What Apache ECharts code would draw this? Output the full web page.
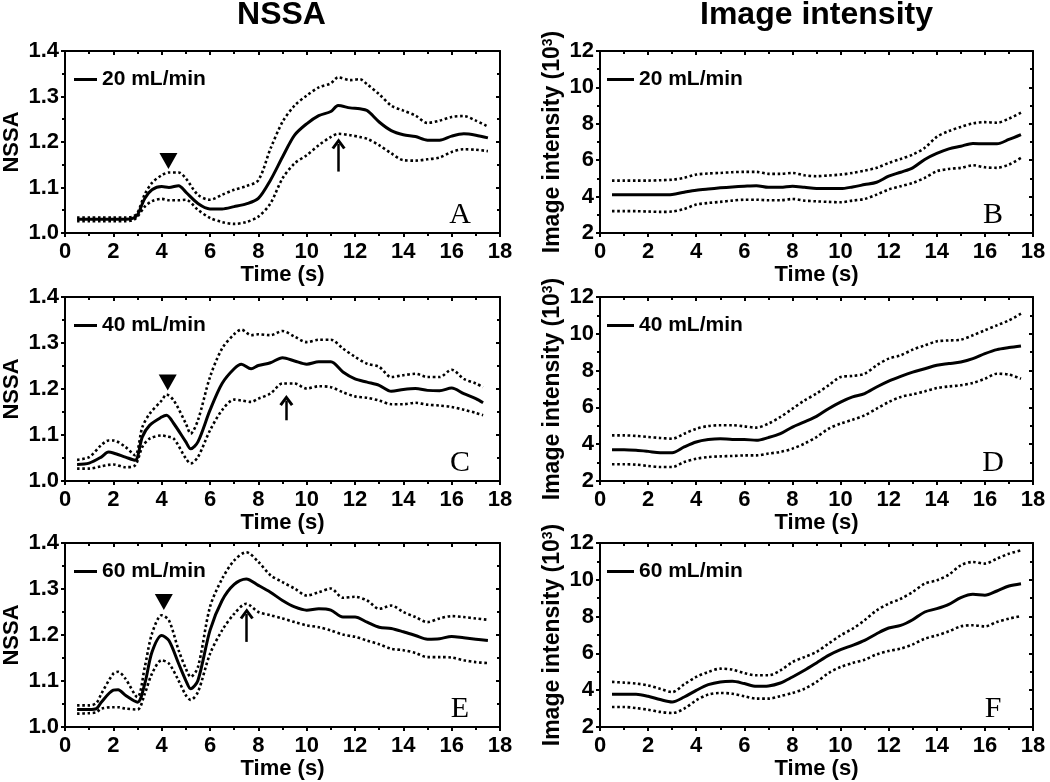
<!DOCTYPE html>
<html>
<head>
<meta charset="utf-8">
<script src="https://cdn.jsdelivr.net/npm/echarts@6/dist/echarts.min.js"></script>
<style>
html,body{margin:0;padding:0;background:#fff;}
#chart{width:1050px;height:782px;}
</style>
</head>
<body>
<div id="chart"></div>
<script>
// ---------- DATA ----------
const columnTitles = ['NSSA', 'Image intensity'];
const flowLabels = ['20 mL/min', '40 mL/min', '60 mL/min'];
const panelLetters = ['A', 'B', 'C', 'D', 'E', 'F'];
const xTicks = {min: 0, max: 18, interval: 2};
const nssaTicks = {min: 1.0, max: 1.4, interval: 0.1};
const intensityTicks = {min: 2, max: 12, interval: 2};

// Panel A: NSSA, 20 mL/min
const timeA = [0.5,1.0,1.5,2.0,2.5,2.8,3.0,3.3,3.6,4.0,4.3,4.7,5.0,5.5,6.0,6.5,7.0,7.5,8.0,8.5,9.0,9.5,10.0,10.5,11.0,11.3,11.8,12.2,12.5,13.0,13.5,14.0,14.5,15.0,15.5,16.0,16.5,17.0,17.5];
const meanA  = [1.03,1.03,1.03,1.03,1.03,1.032,1.04,1.076,1.095,1.102,1.10,1.104,1.09,1.065,1.053,1.053,1.058,1.064,1.076,1.116,1.167,1.215,1.24,1.258,1.267,1.28,1.275,1.273,1.269,1.244,1.225,1.216,1.212,1.204,1.204,1.213,1.218,1.215,1.209];
const upperA = [1.034,1.034,1.034,1.034,1.034,1.036,1.044,1.085,1.11,1.127,1.133,1.133,1.12,1.084,1.073,1.084,1.095,1.103,1.116,1.185,1.244,1.28,1.302,1.32,1.329,1.342,1.336,1.338,1.327,1.305,1.28,1.269,1.258,1.242,1.247,1.255,1.257,1.247,1.234];
const lowerA = [1.026,1.026,1.026,1.026,1.026,1.028,1.036,1.058,1.07,1.075,1.072,1.072,1.073,1.051,1.033,1.024,1.02,1.024,1.036,1.065,1.12,1.153,1.171,1.193,1.211,1.218,1.215,1.211,1.207,1.193,1.175,1.16,1.159,1.162,1.166,1.178,1.184,1.183,1.18];

// Panel B: Image intensity, 20 mL/min
const timeB = [0.5,1.0,1.5,2.0,2.5,3.0,3.5,4.0,4.5,5.0,5.5,6.0,6.5,7.0,7.5,8.0,8.5,9.0,9.5,10.0,10.5,11.0,11.5,12.0,12.5,13.0,13.5,14.0,14.5,15.0,15.5,16.0,16.5,17.0,17.5];
const meanB  = [4.1,4.1,4.1,4.1,4.1,4.12,4.24,4.35,4.42,4.48,4.53,4.57,4.6,4.51,4.51,4.57,4.51,4.44,4.44,4.44,4.53,4.66,4.79,5.12,5.34,5.58,6.04,6.37,6.62,6.77,6.92,6.9,6.9,7.14,7.41];
const upperB = [4.88,4.88,4.88,4.88,4.9,4.93,5.03,5.21,5.27,5.3,5.34,5.36,5.36,5.25,5.25,5.3,5.17,5.12,5.16,5.21,5.3,5.43,5.58,5.85,6.07,6.31,6.68,7.28,7.6,7.83,8.02,8.09,8.06,8.28,8.61];
const lowerB = [3.2,3.2,3.2,3.18,3.16,3.18,3.32,3.56,3.65,3.71,3.78,3.83,3.83,3.8,3.8,3.87,3.78,3.74,3.71,3.69,3.78,3.87,4.11,4.39,4.57,4.75,5.03,5.39,5.52,5.58,5.72,5.61,5.58,5.76,6.13];

// Panel C: NSSA, 40 mL/min
const timeC = [0.5,1.0,1.5,1.8,2.0,2.5,2.9,3.2,3.5,4.0,4.2,4.5,5.0,5.2,5.5,6.0,6.5,7.0,7.3,7.7,8.0,8.5,9.0,9.5,10.0,10.5,11.0,11.5,12.0,12.5,13.0,13.5,14.0,14.5,15.0,15.5,16.0,16.5,17.0,17.3];
const meanC  = [1.036,1.039,1.052,1.063,1.061,1.052,1.045,1.096,1.121,1.139,1.143,1.125,1.085,1.07,1.085,1.154,1.212,1.244,1.254,1.244,1.251,1.257,1.268,1.261,1.254,1.259,1.259,1.237,1.222,1.215,1.208,1.195,1.199,1.201,1.197,1.196,1.202,1.19,1.179,1.17];
const upperC = [1.046,1.052,1.078,1.088,1.088,1.074,1.056,1.117,1.146,1.175,1.188,1.175,1.125,1.103,1.132,1.226,1.288,1.319,1.329,1.317,1.319,1.317,1.326,1.314,1.302,1.307,1.307,1.288,1.27,1.255,1.248,1.226,1.23,1.233,1.226,1.226,1.242,1.222,1.212,1.204];
const lowerC = [1.027,1.027,1.032,1.035,1.036,1.03,1.034,1.074,1.092,1.099,1.097,1.092,1.049,1.038,1.052,1.11,1.154,1.177,1.175,1.172,1.179,1.19,1.212,1.212,1.201,1.206,1.204,1.193,1.184,1.181,1.175,1.167,1.167,1.17,1.166,1.164,1.161,1.155,1.148,1.143];

// Panel D: Image intensity, 40 mL/min
const timeD = timeB;
const meanD  = [3.7,3.7,3.67,3.61,3.54,3.54,3.85,4.12,4.25,4.3,4.26,4.26,4.21,4.36,4.57,4.93,5.21,5.51,5.93,6.29,6.57,6.75,7.11,7.43,7.69,7.92,8.1,8.29,8.38,8.47,8.65,8.92,9.14,9.25,9.34];
const upperD = [4.48,4.48,4.45,4.39,4.34,4.3,4.57,4.84,4.99,5.03,5.03,4.97,4.9,5.12,5.48,5.93,6.38,6.75,7.2,7.65,7.71,7.83,8.29,8.65,8.83,9.14,9.37,9.59,9.64,9.68,9.92,10.19,10.46,10.73,11.09];
const lowerD = [2.91,2.91,2.89,2.82,2.76,2.76,3.03,3.21,3.3,3.34,3.36,3.39,3.39,3.49,3.58,3.76,4.03,4.39,4.84,5.12,5.33,5.57,5.93,6.29,6.57,6.71,6.87,7.05,7.14,7.2,7.33,7.56,7.83,7.78,7.56];

// Panel E: NSSA, 60 mL/min
const timeE = [0.5,1.0,1.3,1.5,2.0,2.2,2.5,3.0,3.3,3.6,4.0,4.3,4.7,5.0,5.2,5.5,6.0,6.5,7.0,7.5,8.0,8.5,9.0,9.5,10.0,10.5,11.0,11.5,12.0,12.5,13.0,13.5,14.0,14.5,15.0,15.5,16.0,16.5,17.0,17.5];
const meanE  = [1.038,1.038,1.04,1.054,1.08,1.081,1.069,1.054,1.094,1.163,1.199,1.188,1.138,1.101,1.083,1.101,1.21,1.275,1.31,1.322,1.308,1.293,1.275,1.261,1.254,1.257,1.254,1.239,1.239,1.228,1.217,1.214,1.207,1.199,1.191,1.192,1.197,1.194,1.191,1.188];
const upperE = [1.047,1.047,1.052,1.072,1.116,1.12,1.105,1.065,1.13,1.203,1.243,1.232,1.167,1.127,1.109,1.13,1.261,1.322,1.362,1.38,1.359,1.33,1.315,1.301,1.286,1.293,1.301,1.281,1.283,1.275,1.257,1.264,1.25,1.239,1.228,1.236,1.241,1.239,1.236,1.233];
const lowerE = [1.029,1.03,1.032,1.04,1.043,1.043,1.04,1.038,1.072,1.116,1.145,1.138,1.101,1.069,1.059,1.076,1.159,1.21,1.246,1.268,1.25,1.243,1.236,1.228,1.221,1.217,1.21,1.201,1.196,1.188,1.18,1.17,1.167,1.161,1.152,1.152,1.151,1.145,1.141,1.139];

// Panel F: Image intensity, 60 mL/min
const timeF = timeB;
const meanF  = [3.78,3.78,3.78,3.67,3.49,3.36,3.63,3.99,4.3,4.45,4.48,4.36,4.21,4.23,4.39,4.72,5.08,5.48,5.89,6.2,6.44,6.71,7.07,7.38,7.52,7.83,8.25,8.43,8.67,9.03,9.21,9.16,9.39,9.66,9.79];
const upperF = [4.45,4.41,4.36,4.26,4.08,3.9,4.32,4.72,4.99,5.17,5.12,4.93,4.81,4.81,5.08,5.53,5.8,6.08,6.53,6.98,7.34,7.8,8.34,8.7,8.97,9.34,9.79,9.97,10.28,10.79,10.97,10.88,11.15,11.42,11.6];
const lowerF = [3.09,3.09,3.03,2.94,2.82,2.76,3.0,3.45,3.76,3.85,3.81,3.67,3.54,3.54,3.68,3.85,4.08,4.45,4.93,5.26,5.48,5.66,5.95,6.13,6.26,6.49,6.8,6.98,7.2,7.47,7.53,7.47,7.71,7.89,8.03];

// Annotations (data coordinates): triangle [x, y]; arrow [x, yFrom, yTo]
const triangleA = [4.28, 1.158];
const triangleC = [4.25, 1.214];
const triangleE = [4.09, 1.272];
const arrowA = [11.32, 1.135, 1.196];
const arrowC = [9.16, 1.132, 1.175];
const arrowE = [7.52, 1.185, 1.246];

// ---------- LAYOUT ----------
const colLeft = [63, 600];
const colWidth = [437, 433];
const rowTop = [51, 297, 543];
const rowHeight = [182, 184, 184];
const legendLeft = [74, 607];
const legendLineW = [23, 27];
const FONT = '"Liberation Sans", Arial, sans-serif';

const panels = [
  {t: timeA, m: meanA, u: upperA, l: lowerA, row: 0, col: 0, tri: triangleA, arrow: arrowA},
  {t: timeB, m: meanB, u: upperB, l: lowerB, row: 0, col: 1},
  {t: timeC, m: meanC, u: upperC, l: lowerC, row: 1, col: 0, tri: triangleC, arrow: arrowC},
  {t: timeD, m: meanD, u: upperD, l: lowerD, row: 1, col: 1},
  {t: timeE, m: meanE, u: upperE, l: lowerE, row: 2, col: 0, tri: triangleE, arrow: arrowE},
  {t: timeF, m: meanF, u: upperF, l: lowerF, row: 2, col: 1}
];

const arrowHead = 'path://M0,8.5 L6,0 L12,8.5 L9.9,10 L6,4.3 L2.1,10 Z';

const grid = [], xAxis = [], yAxis = [], series = [], legend = [], graphic = [];

const lineCol = '#000';
const tickStyle = {color: lineCol, width: 2};

panels.forEach((p, i) => {
  grid.push({left: colLeft[p.col], top: rowTop[p.row], width: colWidth[p.col], height: rowHeight[p.row], containLabel: false});
  const isN = p.col === 0;
  const yT = isN ? nssaTicks : intensityTicks;
  // bottom x
  xAxis.push({
    gridIndex: i, type: 'value', position: 'bottom', min: xTicks.min, max: xTicks.max, interval: xTicks.interval,
    axisLine: {show: true, onZero: false, lineStyle: {color: lineCol, width: 2}},
    axisTick: {show: true, inside: false, length: 4, lineStyle: tickStyle},
    minorTick: {show: true, splitNumber: 2, length: 3, lineStyle: tickStyle},
    splitLine: {show: false},
    axisLabel: {color: '#000', fontSize: 22, fontWeight: 'bold', fontFamily: FONT, margin: 8},
    name: 'Time (s)', nameLocation: 'middle', nameGap: 21,
    nameTextStyle: {color: '#000', fontSize: 22, fontWeight: 'bold', fontFamily: FONT, verticalAlign: 'top'}
  });
  // top x
  xAxis.push({
    gridIndex: i, type: 'value', position: 'top', min: xTicks.min, max: xTicks.max, interval: xTicks.interval,
    axisLine: {show: true, onZero: false, lineStyle: {color: lineCol, width: 2}},
    axisTick: {show: true, inside: true, length: 4, lineStyle: tickStyle},
    minorTick: {show: true, splitNumber: 2, length: 3, lineStyle: tickStyle},
    splitLine: {show: false}, axisLabel: {show: false}
  });
  // left y
  yAxis.push({
    gridIndex: i, type: 'value', position: 'left', min: yT.min, max: yT.max, interval: yT.interval,
    axisLine: {show: true, onZero: false, lineStyle: {color: lineCol, width: 2}},
    axisTick: {show: true, inside: false, length: 4, lineStyle: tickStyle},
    minorTick: {show: true, splitNumber: 2, length: 3, lineStyle: tickStyle},
    splitLine: {show: false},
    axisLabel: {color: '#000', fontSize: 22, fontWeight: 'bold', fontFamily: FONT, margin: 6,
      formatter: isN ? (v => v.toFixed(1)) : (v => String(Math.round(v)))},
    name: isN ? 'NSSA' : 'Image intensity (10{s|3})',
    nameLocation: 'middle', nameGap: isN ? 42 : 36,
    nameTextStyle: {color: '#000', fontSize: isN ? 22 : 23, fontWeight: 'bold', fontFamily: FONT,
      rich: {s: {fontSize: 14, fontWeight: 'bold', fontFamily: FONT, color: '#000', verticalAlign: 'top', lineHeight: 22}}}
  });
  // right y
  yAxis.push({
    gridIndex: i, type: 'value', position: 'right', min: yT.min, max: yT.max, interval: yT.interval,
    axisLine: {show: true, onZero: false, lineStyle: {color: lineCol, width: 2}},
    axisTick: {show: true, inside: true, length: 4, lineStyle: tickStyle},
    minorTick: {show: true, splitNumber: 2, length: 3, lineStyle: tickStyle},
    splitLine: {show: false}, axisLabel: {show: false}
  });

  const toPts = arr => p.t.map((x, k) => [x, arr[k]]);
  const dotted = {color: '#000', width: 2.6, type: [2.6, 2.6]};
  series.push({
    name: 'upper' + i, type: 'line', xAxisIndex: 2 * i, yAxisIndex: 2 * i, data: toPts(p.u),
    showSymbol: false, symbol: 'none', smooth: 0.3, lineStyle: dotted, itemStyle: {color: '#000'}, silent: true, z: 2
  });
  series.push({
    name: 'lower' + i, type: 'line', xAxisIndex: 2 * i, yAxisIndex: 2 * i, data: toPts(p.l),
    showSymbol: false, symbol: 'none', smooth: 0.3, lineStyle: dotted, itemStyle: {color: '#000'}, silent: true, z: 2
  });
  const meanSeries = {
    name: flowLabels[p.row], type: 'line', xAxisIndex: 2 * i, yAxisIndex: 2 * i, data: toPts(p.m),
    showSymbol: false, symbol: 'none', smooth: 0.3, lineStyle: {color: '#000', width: 3}, itemStyle: {color: '#000'}, silent: true, z: 3
  };
  if (p.tri) {
    meanSeries.markPoint = {
      silent: true, symbol: 'triangle', symbolRotate: 180, symbolSize: [18, 16],
      itemStyle: {color: '#000'}, label: {show: false},
      data: [{coord: p.tri}]
    };
    meanSeries.markLine = {
      silent: true, symbol: ['none', arrowHead], symbolSize: [14, 11],
      lineStyle: {color: '#000', width: 2.5, type: 'solid', opacity: 1},
      emphasis: {disabled: true}, label: {show: false},
      data: [[{coord: [p.arrow[0], p.arrow[1]]}, {coord: [p.arrow[0], p.arrow[2]]}]]
    };
  }
  series.push(meanSeries);

  legend.push({
    data: [flowLabels[p.row]], left: legendLeft[p.col], top: rowTop[p.row] + 18,
    itemWidth: legendLineW[p.col], itemHeight: 3, icon: 'rect', padding: 0, selectedMode: false,
    itemGap: 0,
    textStyle: {color: '#000', fontSize: 21, fontWeight: 'bold', fontFamily: FONT}
  });

  // panel letter
  const lx = colLeft[p.col] + colWidth[p.col] - 40;
  const ly = rowTop[p.row] + rowHeight[p.row] - 18;
  graphic.push({
    type: 'text', x: lx, y: ly, silent: true,
    style: {text: panelLetters[i], font: '30px "Liberation Serif", "Times New Roman", serif', fill: '#000',
      align: 'center', verticalAlign: 'middle', textAlign: 'center', textVerticalAlign: 'middle'}
  });
});

// column titles
columnTitles.forEach((txt, c) => {
  graphic.push({
    type: 'text', x: colLeft[c] + colWidth[c] / 2, y: 15, silent: true,
    style: {text: txt, font: 'bold 32px ' + FONT, fill: '#000',
      align: 'center', verticalAlign: 'middle', textAlign: 'center', textVerticalAlign: 'middle'}
  });
});

const chart = echarts.init(document.getElementById('chart'), null, {renderer: 'canvas'});
chart.setOption({
  backgroundColor: '#fff',
  animation: false,
  grid, xAxis, yAxis, series, legend, graphic
});
</script>
</body>
</html>
